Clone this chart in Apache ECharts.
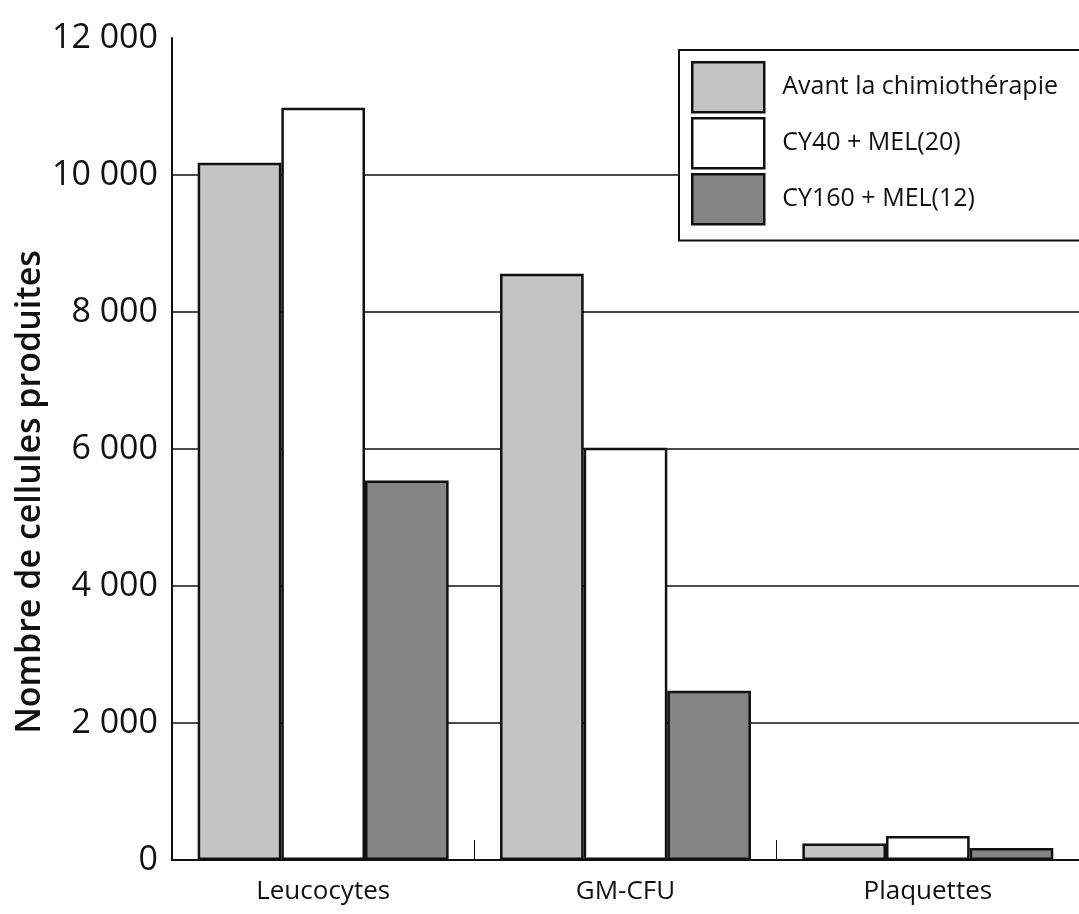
<!DOCTYPE html>
<html>
<head>
<meta charset="utf-8">
<script src="https://cdn.jsdelivr.net/npm/echarts@6/dist/echarts.min.js"></script>
<style>
html,body{margin:0;padding:0;background:#fff;}
#chart{width:1079px;height:914px;}
</style>
</head>
<body>
<div id="chart"></div>
<script>
const categories = ['Leucocytes', 'GM-CFU', 'Plaquettes'];
const seriesNames = ['Avant la chimiothérapie', 'CY40 + MEL(20)', 'CY160 + MEL(12)'];
const avantValues = [10180, 8560, 240];
const cy40Values = [10980, 6020, 350];
const cy160Values = [5540, 2470, 175];
const yTicks = [0, 2000, 4000, 6000, 8000, 10000, 12000];
const yAxisTitle = 'Nombre de cellules produites';

const FONT = 'Open Sans';
const chart = echarts.init(document.getElementById('chart'), null, {renderer: 'canvas'});

const fills = ['#c4c4c4', '#ffffff', '#858585'];
const data = [avantValues, cy40Values, cy160Values];

const option = {
  backgroundColor: '#ffffff',
  animation: false,
  textStyle: {fontFamily: FONT, color: '#111'},
  grid: {left: 172, right: 0, top: 38, bottom: 54},
  legend: {
    left: 679, top: 50,
    orient: 'vertical',
    icon: 'rect',
    itemWidth: 72, itemHeight: 50, itemGap: 3.5,
    padding: [11, 80, 15, 12],
    borderColor: '#111', borderWidth: 2,
    backgroundColor: '#fff',
    itemStyle: {borderColor: '#111', borderWidth: 2.5},
    textStyle: {fontFamily: FONT, fontSize: 25, color: '#111', padding: [0, 0, 0, 13]},
    data: seriesNames
  },
  xAxis: {
    type: 'category',
    data: categories,
    axisLine: {lineStyle: {color: '#111', width: 2}},
    axisTick: {show: true, length: 20, inside: true, lineStyle: {color: '#111', width: 1}},
    axisLabel: {fontFamily: FONT, fontSize: 26, color: '#111', margin: 19},
  },
  yAxis: {
    type: 'value',
    min: 0, max: 12000, interval: 2000,
    axisLine: {show: true, lineStyle: {color: '#111', width: 2}},
    axisTick: {show: false},
    axisLabel: {
      fontFamily: FONT, fontSize: 34, color: '#111', margin: 14,
      formatter: v => yTicks.includes(v) ? String(v).replace(/\B(?=(\d{3})+(?!\d))/g, ' ') : ''
    },
    splitLine: {show: true, showMaxLine: false, lineStyle: {color: '#111', width: 1.5}}
  },
  graphic: [{
    type: 'text',
    x: 30, y: 492,
    rotation: Math.PI / 2,
    style: {
      text: yAxisTitle,
      fontFamily: FONT, fontSize: 34, fontWeight: 600,
      fill: '#111', align: 'center', verticalAlign: 'middle'
    }
  }],
  series: seriesNames.map((name, i) => ({
    name: name,
    type: 'bar',
    data: data[i],
    barGap: '0%',
    barCategoryGap: '17%',
    itemStyle: {color: fills[i], borderColor: '#111', borderWidth: 2.5}
  }))
};
chart.setOption(option);
</script>
</body>
</html>
